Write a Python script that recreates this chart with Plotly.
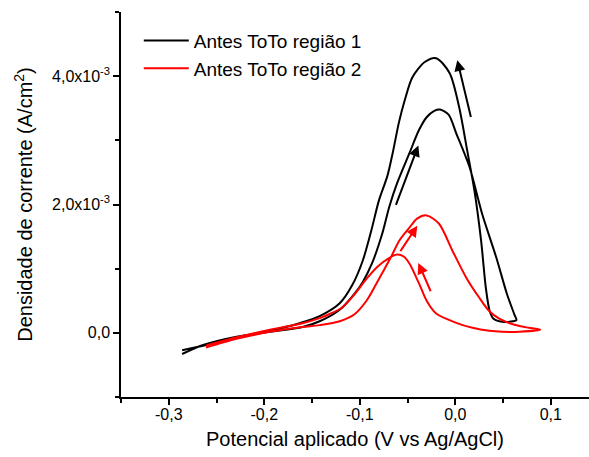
import plotly.graph_objects as go

# Region 1 (black): forward scan then reverse scan
r1_x = [-0.286, -0.264, -0.229, -0.194, -0.160, -0.142, -0.121, -0.105, -0.097, -0.087, -0.077,
        -0.069, -0.061, -0.048, -0.038, -0.030, -0.022, -0.016, -0.007, 0.001, 0.015, 0.028,
        0.043, 0.054, 0.062, 0.064,
        0.051, 0.040, 0.036, 0.032, 0.027, 0.020, 0.0125, 0.004, -0.006, -0.020, -0.032, -0.045,
        -0.053, -0.059, -0.065, -0.071, -0.080, -0.088, -0.097, -0.108, -0.121, -0.142, -0.163,
        -0.194, -0.229, -0.264, -0.286]
r1_y = [-0.33, -0.19, -0.06, 0.016, 0.09, 0.18, 0.36, 0.62, 0.79, 1.09, 1.52,
        1.97, 2.33, 2.80, 3.16, 3.36, 3.46, 3.48, 3.40, 3.11, 2.58, 1.86,
        1.17, 0.61, 0.28, 0.20,
        0.17, 0.22, 0.34, 0.70, 1.44, 2.22, 2.84, 3.52, 4.05, 4.28, 4.22, 3.98,
        3.62, 3.28, 2.84, 2.45, 2.06, 1.59, 1.12, 0.74, 0.46, 0.26, 0.15,
        0.03, -0.08, -0.20, -0.27]
r1_y = [v * 1e-3 for v in r1_y]

# Region 2 (red): forward scan then reverse scan
r2_x = [-0.261, -0.229, -0.194, -0.160, -0.142, -0.121, -0.1055, -0.093, -0.0825, -0.074, -0.067,
        -0.0585, -0.048, -0.040, -0.030, -0.017, -0.003, 0.0115, 0.025, 0.0355, 0.046, 0.062,
        0.077, 0.089,
        0.067, 0.049, 0.0355, 0.018, 0.001, -0.020, -0.030, -0.038, -0.048, -0.054, -0.061,
        -0.069, -0.0815, -0.093, -0.1055, -0.118, -0.132, -0.142, -0.160, -0.194, -0.229, -0.261]
r2_y = [-0.23, -0.094, 0.016, 0.09, 0.12, 0.18, 0.29, 0.50, 0.77, 1.0, 1.19,
        1.44, 1.64, 1.78, 1.83, 1.70, 1.28, 0.86, 0.55, 0.34, 0.22, 0.125,
        0.078, 0.05,
        0.016, 0.016, 0.031, 0.078, 0.156, 0.30, 0.50, 0.77, 1.08, 1.19, 1.22,
        1.17, 1.03, 0.84, 0.60, 0.40, 0.29, 0.23, 0.15, 0.05, -0.07, -0.20]
r2_y = [v * 1e-3 for v in r2_y]

series_names = ["Antes ToTo região 1", "Antes ToTo região 2"]

# Scan-direction arrows: (tail_x, tail_y, head_x, head_y, color)
arrows = [
    (-0.0627, 1.97e-3, -0.0387, 2.92e-3, "black"),
    (0.0167, 3.34e-3, 0.0021, 4.25e-3, "black"),
    (-0.0585, 1.25e-3, -0.0397, 1.67e-3, "red"),
    (-0.0251, 0.625e-3, -0.0387, 1.09e-3, "red"),
]

x_ticks = [-0.3, -0.2, -0.1, 0.0, 0.1]
x_ticktext = ["-0,3", "-0,2", "-0,1", "0,0", "0,1"]
y_ticks = [0.0, 2e-3, 4e-3]
y_ticktext = ["0,0", "2,0x10<sup>-3</sup>", "4,0x10<sup>-3</sup>"]

fig = go.Figure()
fig.add_trace(go.Scatter(x=r1_x, y=r1_y, mode="lines", name=series_names[0],
                         line=dict(color="black", width=2, shape="spline", smoothing=0.8)))
fig.add_trace(go.Scatter(x=r2_x, y=r2_y, mode="lines", name=series_names[1],
                         line=dict(color="#ff0000", width=2, shape="spline", smoothing=0.8)))

for tx, ty, hx, hy, c in arrows:
    fig.add_annotation(x=hx, y=hy, ax=tx, ay=ty, xref="x", yref="y", axref="x", ayref="y",
                       showarrow=True, arrowhead=2, arrowsize=1.1, arrowwidth=2, arrowcolor=c, text="")

font = "Liberation Sans, Arial, sans-serif"
fig.update_layout(
    width=589, height=457,
    margin=dict(l=121, r=0, t=12, b=60),
    paper_bgcolor="white", plot_bgcolor="white",
    font=dict(family=font, color="black"),
    showlegend=True,
    legend=dict(x=0.038, y=0.975, xanchor="left", yanchor="top", bgcolor="rgba(0,0,0,0)",
                font=dict(size=19, family=font), tracegroupgap=0, itemwidth=45),
    xaxis=dict(range=[-0.35, 0.14], tickvals=x_ticks, ticktext=x_ticktext,
               showline=True, linecolor="black", linewidth=1.5, mirror=False,
               ticks="outside", ticklen=6, tickwidth=1.5, tickcolor="black",
               ticklabelstandoff=-4,
               minor=dict(tickvals=[-0.35, -0.25, -0.15, -0.05, 0.05], ticks="outside",
                          ticklen=4, tickwidth=1.5, tickcolor="black"),
               showgrid=False, zeroline=False, tickfont=dict(size=16),
               title=dict(text="Potencial aplicado (V vs Ag/AgCl)", font=dict(size=20), standoff=10)),
    yaxis=dict(range=[-1e-3, 5e-3], tickvals=y_ticks, ticktext=y_ticktext,
               showline=True, linecolor="black", linewidth=1.5, mirror=False,
               ticks="outside", ticklen=6, tickwidth=1.5, tickcolor="black",
               minor=dict(tickvals=[-1e-3, 1e-3, 3e-3, 5e-3], ticks="outside",
                          ticklen=4, tickwidth=1.5, tickcolor="black"),
               showgrid=False, zeroline=False, tickfont=dict(size=16),
               title=dict(text="Densidade de corrente (A/cm<sup>2</sup>)", font=dict(size=20), standoff=14)),
)

fig.write_html("out.html")
